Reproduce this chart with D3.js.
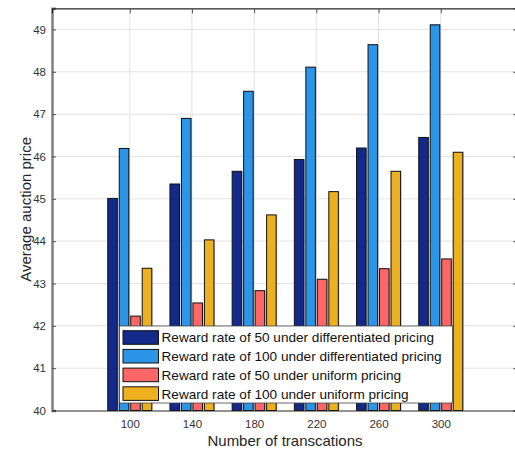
<!DOCTYPE html>
<html>
<head>
<meta charset="utf-8">
<script src="https://cdn.jsdelivr.net/npm/d3@7"></script>
<style>
  html, body { margin: 0; padding: 0; background: #fff; }
  svg { display: block; font-family: "Liberation Sans", Arial, Helvetica, sans-serif; }
</style>
</head>
<body>
<svg id="chart" width="515" height="450"></svg>
<script>
// Number of transactions on the x axis
const transactions = [100, 140, 180, 220, 260, 300];

// Average auction price for each reward rate / pricing scheme
const diff50  = [45.01, 45.35, 45.65, 45.93, 46.20, 46.45];
const diff100 = [46.19, 46.90, 47.54, 48.11, 48.64, 49.11];
const unif50  = [42.23, 42.54, 42.83, 43.10, 43.35, 43.58];
const unif100 = [43.36, 44.03, 44.62, 45.17, 45.65, 46.10];

const seriesNames = [
  "Reward rate of 50 under differentiated pricing",
  "Reward rate of 100 under differentiated pricing",
  "Reward rate of 50 under uniform pricing",
  "Reward rate of 100 under uniform pricing"
];
const seriesColors = ["#142a8a", "#2b96e8", "#ff6666", "#edb120"];
const yTicks = [40, 41, 42, 43, 44, 45, 46, 47, 48, 49];

const series = [diff50, diff100, unif50, unif100].map((vals, i) => ({
  name: seriesNames[i], color: seriesColors[i], values: vals
}));

const svg = d3.select("#chart");
const plotL = 52, plotR = 518.5, plotT = 8.3, plotB = 410.5;

const x = d3.scaleLinear().domain([50, 350]).range([plotL, plotR]);
const y = d3.scaleLinear().domain([40, 49.5]).range([plotB, plotT]);
const inner = d3.scaleBand().domain(d3.range(series.length))
  .range([-22, 22]).paddingInner(0.17).paddingOuter(0);

// grid
const grid = svg.append("g");
grid.selectAll("line.h").data(yTicks.slice(1)).join("line")
  .attr("x1", plotL).attr("x2", plotR)
  .attr("y1", d => y(d)).attr("y2", d => y(d))
  .attr("stroke", "#e3e3e3").attr("stroke-width", 1);
grid.selectAll("line.v").data(transactions).join("line")
  .attr("x1", d => x(d)).attr("x2", d => x(d))
  .attr("y1", plotT).attr("y2", plotB)
  .attr("stroke", "#e3e3e3").attr("stroke-width", 1);

// bars
const bars = svg.append("g");
series.forEach((s, si) => {
  const g = bars.append("g");
  // soft edge on the right of each bar
  g.selectAll("rect.shade").data(s.values).join("rect")
    .attr("x", (d, i) => x(transactions[i]) + inner(si) + 1)
    .attr("y", d => y(d))
    .attr("width", inner.bandwidth())
    .attr("height", d => plotB - y(d))
    .attr("fill", "#9a9a9a").attr("opacity", 0.6);
  g.selectAll("rect.bar").data(s.values).join("rect")
    .attr("x", (d, i) => x(transactions[i]) + inner(si))
    .attr("y", d => y(d))
    .attr("width", inner.bandwidth())
    .attr("height", d => plotB - y(d))
    .attr("fill", s.color)
    .attr("stroke", "#111").attr("stroke-width", 1);
});

// axes
const yAxisL = d3.axisLeft(y).tickValues(yTicks).tickSize(-4).tickPadding(6).tickFormat(d3.format("d"));
const gyl = svg.append("g").attr("transform", `translate(${plotL},0)`).call(yAxisL);
gyl.select(".domain").attr("stroke", "#808080").attr("stroke-width", 2.5);
gyl.selectAll(".tick line").attr("stroke", "#555");
gyl.selectAll(".tick text").attr("fill", "#333").style("font-size", "11.5px")
  .style("font-family", "'Liberation Sans', Arial, sans-serif");

const gyr = svg.append("g").attr("transform", `translate(${plotR},0)`)
  .call(d3.axisRight(y).tickValues(yTicks).tickSize(-5).tickFormat(""));
gyr.select(".domain").attr("stroke", "#262626");
gyr.selectAll(".tick line").attr("stroke", "#262626");

const xAxisB = d3.axisBottom(x).tickValues(transactions).tickSize(0).tickPadding(9);
const gxb = svg.append("g").attr("transform", `translate(0,${plotB})`).call(xAxisB);
gxb.select(".domain").attr("stroke", "#262626").attr("stroke-width", 1.2);
gxb.selectAll(".tick text").attr("fill", "#333").style("font-size", "11.5px")
  .style("font-family", "'Liberation Sans', Arial, sans-serif");

const gxt = svg.append("g").attr("transform", `translate(0,${plotT})`)
  .call(d3.axisTop(x).tickValues(transactions).tickSize(-5).tickFormat(""));
gxt.select(".domain").attr("stroke", "#262626").attr("stroke-width", 1.2);
gxt.selectAll(".tick line").attr("stroke", "#555");

// axis titles
svg.append("text").attr("x", 285).attr("y", 446)
  .attr("text-anchor", "middle").attr("fill", "#262626")
  .style("font-size", "15px").text("Number of transcations");
svg.append("text")
  .attr("transform", `translate(26,${(plotT + plotB) / 2}) rotate(-90)`)
  .attr("text-anchor", "middle").attr("dy", "0.35em").attr("fill", "#262626")
  .style("font-size", "15px").text("Average auction price");

// legend
const lg = svg.append("g").attr("transform", "translate(119.5,326)");
lg.append("rect").attr("width", 333).attr("height", 77)
  .attr("fill", "#fff").attr("stroke", "#444").attr("stroke-width", 0.8);
const rows = lg.selectAll("g.row").data(series).join("g")
  .attr("transform", (d, i) => `translate(0,${11.5 + i * 18.7})`);
rows.append("rect").attr("x", 3.5).attr("y", -6.8).attr("width", 35.5).attr("height", 13.6)
  .attr("fill", d => d.color).attr("stroke", "#111").attr("stroke-width", 1);
rows.append("text").attr("x", 42).attr("y", 0).attr("dy", "0.36em")
  .attr("fill", "#111").style("font-size", "13.6px").text(d => d.name);
</script>
</body>
</html>
